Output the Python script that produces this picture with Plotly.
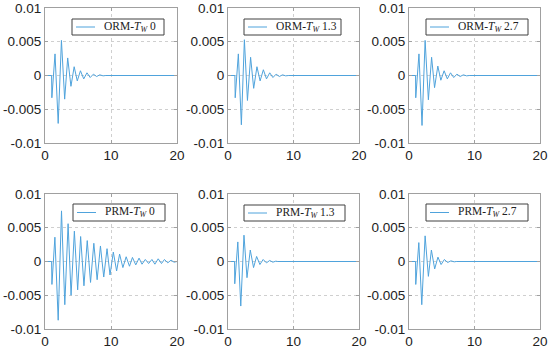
import plotly.graph_objects as go

# ---------------- data ----------------
names = [
    "ORM-<i>T</i><sub><i>W</i></sub> 0",
    "ORM-<i>T</i><sub><i>W</i></sub> 1.3",
    "ORM-<i>T</i><sub><i>W</i></sub> 2.7",
    "PRM-<i>T</i><sub><i>W</i></sub> 0",
    "PRM-<i>T</i><sub><i>W</i></sub> 1.3",
    "PRM-<i>T</i><sub><i>W</i></sub> 2.7",
]

t_orm0 = [0, 1.0, 1.04, 1.52, 2.0, 2.49, 2.98, 3.44, 3.93, 4.42, 4.89, 5.37, 5.87, 6.36, 6.85,
          7.33, 7.82, 8.3, 8.8, 9.2, 20]
y_orm0 = [0, 0, -0.0033, 0.0032, -0.0071, 0.0052, -0.0035, 0.0026, -0.0016, 0.0013, -0.0008,
          0.0007, -0.0005, 0.0004, -0.0003, 0.0002, -0.00015, 0.0001, -0.00005, 0, 0]

t_orm13 = [0, 1.05, 1.1, 1.58, 2.04, 2.5, 2.97, 3.45, 3.92, 4.42, 4.9, 5.4, 5.88, 6.37, 6.86,
           7.35, 7.84, 8.33, 8.8, 9.25, 20]
y_orm13 = [0, 0, -0.0033, 0.0032, -0.0073, 0.0053, -0.0037, 0.0027, -0.0019, 0.0013, -0.0008,
           0.00085, -0.0005, 0.0004, -0.0003, 0.0002, -0.00015, 0.0001, -0.00005, 0, 0]

t_orm27 = [0, 1.0, 1.03, 1.52, 1.99, 2.46, 2.96, 3.45, 3.9, 4.4, 4.86, 5.36, 5.85, 6.34, 6.83,
           7.32, 7.8, 8.3, 8.78, 9.2, 20]
y_orm27 = [0, 0, -0.0033, 0.0032, -0.0074, 0.0052, -0.0036, 0.0027, -0.0018, 0.0014, -0.0007,
           0.0007, -0.0005, 0.0004, -0.0003, 0.0002, -0.00015, 0.0001, -0.00005, 0, 0]

t_prm0 = [0, 1.0, 1.05, 1.5, 2.0, 2.5, 3.0, 3.5, 3.95, 4.45, 4.95, 5.4, 5.9, 6.4, 6.9, 7.4, 7.9,
          8.4, 8.9, 9.4, 9.85, 10.35, 10.85, 11.3, 11.8, 12.3, 12.8, 13.25, 13.75, 14.25, 14.7,
          15.2, 15.7, 16.2, 16.65, 17.15, 17.65, 18.1, 18.6, 19.1, 19.55, 20.0]
y_prm0 = [0, 0, -0.0034, 0.0036, -0.0087, 0.0075, -0.0064, 0.0056, -0.005, 0.0045, -0.0042,
          0.0037, -0.0036, 0.0031, -0.0031, 0.0027, -0.0027, 0.0023, -0.0023, 0.0019, -0.002,
          0.0014, -0.0014, 0.0011, -0.0009, 0.0007, -0.0007, 0.0006, -0.0005, 0.0005, -0.0004,
          0.0003, -0.0003, 0.0003, -0.0004, 0.0004, -0.0003, 0.0003, -0.0002, 0.0002, -0.0001, 0]

t_prm13 = [0, 1.0, 1.03, 1.5, 1.95, 2.44, 2.9, 3.4, 3.9, 4.37, 4.87, 5.37, 5.87, 6.37, 6.85,
           7.3, 7.6, 20]
y_prm13 = [0, 0, -0.0033, 0.0029, -0.0066, 0.0039, -0.0024, 0.0017, -0.0009, 0.00075, -0.00045,
           0.0003, -0.0002, 0.00015, -0.0001, 0.00005, 0, 0]

t_prm27 = [0, 1.0, 1.03, 1.5, 1.95, 2.46, 2.96, 3.42, 3.92, 4.42, 4.9, 5.4, 5.9, 6.4, 6.9,
           7.2, 20]
y_prm27 = [0, 0, -0.0034, 0.0028, -0.0064, 0.0038, -0.0022, 0.0017, -0.0011, 0.00065, -0.00045,
           0.0003, -0.00015, 0.0001, -0.00005, 0, 0]

series_t = [t_orm0, t_orm13, t_orm27, t_prm0, t_prm13, t_prm27]
series_y = [y_orm0, y_orm13, y_orm27, y_prm0, y_prm13, y_prm27]

x_ticks = [0, 10, 20]
x_ticktext = ["0", "10", "20"]
y_ticks = [-0.01, -0.005, 0, 0.005, 0.01]
y_ticktext = ["-0.01", "-0.005", "0", "0.005", "0.01"]

# ---------------- layout geometry (pixels) ----------------
W, H = 550, 350
col_px = [(45, 177), (228, 359), (409, 540)]
row_px = [(8, 143), (194, 329)]
# legend boxes: (left, top, right, bottom)
legend_box = [(72, 19, 164, 35), (244, 19, 341, 35), (426, 19, 528, 35),
              (73, 204, 165, 221), (244, 205, 345, 221), (426, 204, 528, 221)]

LINE = "#4fa3dc"
FRAME = "#a0a0a0"
GRID = "#cfcfcf"


def px(x):
    return x / W


def py(y):
    return 1 - y / H


fig = go.Figure()
layout = dict(
    width=W, height=H,
    margin=dict(l=0, r=0, t=0, b=0, autoexpand=False),
    paper_bgcolor="white", plot_bgcolor="white",
    showlegend=False,
)
shapes = []
annotations = []

for i in range(6):
    r, c = divmod(i, 3)
    k = "" if i == 0 else str(i + 1)
    fig.add_trace(go.Scatter(
        x=series_t[i], y=series_y[i], mode="lines", name=names[i],
        line=dict(color=LINE, width=1),
        xaxis="x" + k, yaxis="y" + k,
    ))
    x0, x1 = col_px[c]
    y0, y1 = row_px[r]
    axis_common = dict(
        showline=True, mirror="ticks", linecolor=FRAME, linewidth=1,
        ticks="inside", ticklen=3, tickcolor=FRAME,
        showgrid=True, gridcolor=GRID, griddash="dot", gridwidth=1,
        zeroline=False, automargin=False,
        tickfont=dict(family="Liberation Sans, Arial, sans-serif", size=13.5, color="#222222"),
    )
    layout["xaxis" + k] = dict(
        domain=[px(x0), px(x1)], range=[0, 20], anchor="y" + k,
        tickmode="array", tickvals=x_ticks, ticktext=x_ticktext, **axis_common,
    )
    layout["yaxis" + k] = dict(
        domain=[py(y1), py(y0)], range=[-0.01, 0.01], anchor="x" + k,
        tickmode="array", tickvals=y_ticks, ticktext=y_ticktext, **axis_common,
    )
    # legend drawn manually: box, line sample, label
    bl, bt, br, bb = legend_box[i]
    ym = (bt + bb) / 2
    shapes.append(dict(type="rect", xref="paper", yref="paper",
                       x0=px(bl), x1=px(br), y0=py(bb), y1=py(bt),
                       line=dict(color="#404040", width=1), fillcolor="white", layer="above"))
    shapes.append(dict(type="line", xref="paper", yref="paper",
                       x0=px(bl + 4), x1=px(bl + 23), y0=py(ym), y1=py(ym),
                       line=dict(color=LINE, width=1), layer="above"))
    annotations.append(dict(xref="paper", yref="paper", x=px(bl + 30), y=py(ym),
                            xanchor="left", yanchor="middle", showarrow=False, text=names[i],
                            font=dict(family="Liberation Serif, Times New Roman, serif",
                                      size=11.5, color="#222222")))

layout["shapes"] = shapes
layout["annotations"] = annotations
fig.update_layout(**layout)
fig.write_html("out.html", config={"displayModeBar": False, "staticPlot": True},
               post_script="document.body.style.margin='0';document.body.style.overflow='hidden';")
